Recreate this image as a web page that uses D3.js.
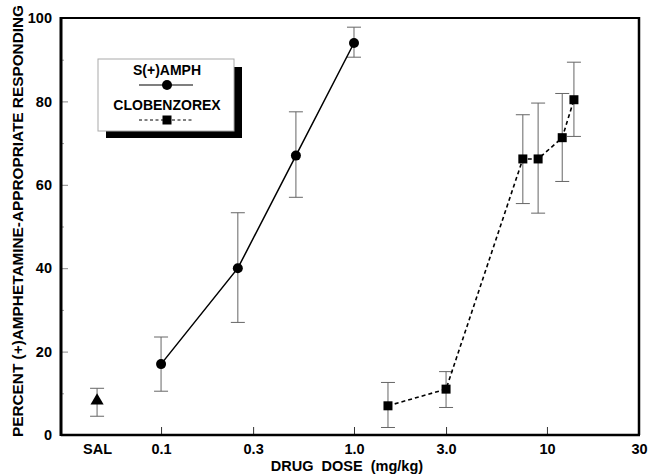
<!DOCTYPE html>
<html>
<head>
<meta charset="utf-8">
<script src="https://cdn.jsdelivr.net/npm/d3@7"></script>
<style>
  html, body { margin: 0; padding: 0; background: #fff; }
  svg { display: block; font-family: "Liberation Sans", Arial, Helvetica, sans-serif; font-weight: bold; }
</style>
</head>
<body>
<div id="chart"></div>
<script>
/* Drug discrimination dose-effect curves: S(+)AMPH vs CLOBENZOREX, log dose axis */

/* S(+)amphetamine */
var amphDose = [0.1, 0.25, 0.5, 1.0];
var amphMean = [17, 40, 67, 94];
var amphLo   = [10.5, 27, 57, 90.6];
var amphHi   = [23.5, 53.3, 77.5, 97.8];

/* clobenzorex */
var clobDose = [1.5, 3.0, 7.5, 9, 12, 13.8];
var clobMean = [7, 11, 66.2, 66.2, 71.3, 80.4];
var clobLo   = [1.8, 6.6, 55.5, 53.2, 60.8, 71.6];
var clobHi   = [12.6, 15.2, 76.8, 79.6, 81.9, 89.4];

/* saline control (placed at its own slot left of 0.1) */
var salDose = 0.0466;
var salMean = 8.2;
var salLo = 4.5;
var salHi = 11.2;

var xTickValues = [salDose, 0.1, 0.3, 1, 3, 10, 30];
var xTickLabels = ['SAL', '0.1', '0.3', '1.0', '3.0', '10', '30'];
var xMarkValues = [0.1, 0.3, 1, 3, 10];
var yTickValues = [0, 20, 40, 60, 80, 100];
var yMinorValues = [10, 30, 50, 70, 90];

(function () {
  'use strict';
  var W = 649, H = 474;
  var margin = { top: 18, right: 10, bottom: 39, left: 61 };
  var iw = W - margin.left - margin.right;
  var ih = H - margin.top - margin.bottom;
  var FONT = '"Liberation Sans", Arial, sans-serif';

  var svg = d3.select('#chart').append('svg').attr('width', W).attr('height', H);
  var g = svg.append('g').attr('transform', 'translate(' + margin.left + ',' + margin.top + ')');

  var x = d3.scaleLog().domain([0.0303, 30]).range([0, iw]);
  var y = d3.scaleLinear().domain([0, 100]).range([ih, 0]);

  /* y axis: labelled ticks + minor ticks, all pointing inward */
  var yAx = g.append('g').call(d3.axisLeft(y).tickValues(yTickValues).tickSizeInner(-7).tickSizeOuter(0).tickPadding(9));
  yAx.select('.domain').remove();
  yAx.selectAll('line').attr('stroke', '#888').attr('stroke-width', 1);
  yAx.selectAll('text').attr('fill', '#000').style('font-size', '14.5px').style('font-weight', 'bold')
    .style('font-family', FONT);

  var yMin = g.append('g').call(d3.axisLeft(y).tickValues(yMinorValues).tickSizeInner(-3).tickSizeOuter(0).tickFormat(''));
  yMin.select('.domain').remove();
  yMin.selectAll('line').attr('stroke', '#999').attr('stroke-width', 1);

  /* x axis labels */
  var xAx = g.append('g').attr('transform', 'translate(0,' + ih + ')')
    .call(d3.axisBottom(x).tickValues(xTickValues).tickSize(0).tickPadding(9)
      .tickFormat(function (d, i) { return xTickLabels[i]; }));
  xAx.select('.domain').remove();
  xAx.selectAll('text').attr('fill', '#000').style('font-size', '14.5px').style('font-weight', 'bold')
    .style('font-family', FONT);

  /* x tick marks inward */
  var xMk = g.append('g').attr('transform', 'translate(0,' + ih + ')')
    .call(d3.axisBottom(x).tickValues(xMarkValues).tickSizeInner(-8).tickSizeOuter(0).tickFormat(''));
  xMk.select('.domain').remove();
  xMk.selectAll('line').attr('stroke', '#333').attr('stroke-width', 1);

  /* frame */
  g.append('line').attr('x1', 0).attr('x2', iw).attr('y1', 0).attr('y2', 0).attr('stroke', '#000').attr('stroke-width', 2);
  g.append('line').attr('x1', iw).attr('x2', iw).attr('y1', -1).attr('y2', ih).attr('stroke', '#000').attr('stroke-width', 2.5);
  g.append('line').attr('x1', 0).attr('x2', iw + 1).attr('y1', ih).attr('y2', ih).attr('stroke', '#000').attr('stroke-width', 2.5);
  g.append('line').attr('x1', 0).attr('x2', 0).attr('y1', -1).attr('y2', ih + 1).attr('stroke', '#000').attr('stroke-width', 3);

  /* error bars */
  function errorBars(dose, lo, hi) {
    var eb = g.append('g').attr('stroke', '#666').attr('stroke-width', 1).attr('fill', 'none');
    dose.forEach(function (d, i) {
      var cx = x(d);
      eb.append('line').attr('x1', cx).attr('x2', cx).attr('y1', y(lo[i])).attr('y2', y(hi[i]));
      eb.append('line').attr('x1', cx - 7).attr('x2', cx + 7).attr('y1', y(lo[i])).attr('y2', y(lo[i]));
      eb.append('line').attr('x1', cx - 7).attr('x2', cx + 7).attr('y1', y(hi[i])).attr('y2', y(hi[i]));
    });
  }
  errorBars(amphDose, amphLo, amphHi);
  errorBars(clobDose, clobLo, clobHi);
  errorBars([salDose], [salLo], [salHi]);

  /* lines */
  var line = d3.line().x(function (d) { return x(d[0]); }).y(function (d) { return y(d[1]); });
  g.append('path').datum(d3.zip(amphDose, amphMean)).attr('d', line)
    .attr('fill', 'none').attr('stroke', '#000').attr('stroke-width', 1.5);
  g.append('path').datum(d3.zip(clobDose, clobMean)).attr('d', line)
    .attr('fill', 'none').attr('stroke', '#000').attr('stroke-width', 1.6).attr('stroke-dasharray', '4,3');

  /* markers */
  g.selectAll('circle.amph').data(d3.zip(amphDose, amphMean)).enter().append('circle')
    .attr('cx', function (d) { return x(d[0]); }).attr('cy', function (d) { return y(d[1]); })
    .attr('r', 5).attr('fill', '#000');
  g.selectAll('rect.clob').data(d3.zip(clobDose, clobMean)).enter().append('rect')
    .attr('x', function (d) { return x(d[0]) - 4.5; }).attr('y', function (d) { return y(d[1]) - 4.5; })
    .attr('width', 9).attr('height', 9).attr('fill', '#000');
  g.append('path').attr('d', d3.symbol().type(d3.symbolTriangle).size(75))
    .attr('transform', 'translate(' + x(salDose) + ',' + y(salMean) + ')').attr('fill', '#000');

  /* legend with drop shadow */
  var lg = svg.append('g').attr('transform', 'translate(98,59)');
  lg.append('rect').attr('x', 8).attr('y', 8).attr('width', 136).attr('height', 71).attr('fill', '#000');
  lg.append('rect').attr('x', 0).attr('y', 0).attr('width', 136).attr('height', 72)
    .attr('fill', '#fff').attr('stroke', '#aaa').attr('stroke-width', 1);
  lg.append('text').attr('x', 69).attr('y', 16).attr('text-anchor', 'middle')
    .style('font-size', '14px').text('S(+)AMPH');
  lg.append('line').attr('x1', 41).attr('x2', 95).attr('y1', 26).attr('y2', 26).attr('stroke', '#000').attr('stroke-width', 1.2);
  lg.append('circle').attr('cx', 69).attr('cy', 26).attr('r', 5).attr('fill', '#000');
  lg.append('text').attr('x', 69).attr('y', 51).attr('text-anchor', 'middle')
    .style('font-size', '14px').text('CLOBENZOREX');
  lg.append('line').attr('x1', 41).attr('x2', 95).attr('y1', 61).attr('y2', 61).attr('stroke', '#000')
    .attr('stroke-width', 1).attr('stroke-dasharray', '3,2.5');
  lg.append('rect').attr('x', 64.5).attr('y', 56.5).attr('width', 9).attr('height', 9).attr('fill', '#000');

  /* axis titles */
  svg.append('text').attr('transform', 'translate(23,221) rotate(-90)').attr('text-anchor', 'middle')
    .attr('textLength', 432).attr('lengthAdjust', 'spacingAndGlyphs')
    .style('font-size', '15px').text('PERCENT (+)AMPHETAMINE-APPROPRIATE RESPONDING');
  svg.append('text').attr('x', 347).attr('y', 471).attr('text-anchor', 'middle')
    .style('font-size', '14.5px').style('white-space', 'pre').text('DRUG  DOSE  (mg/kg)');
})();
</script>
</body>
</html>
